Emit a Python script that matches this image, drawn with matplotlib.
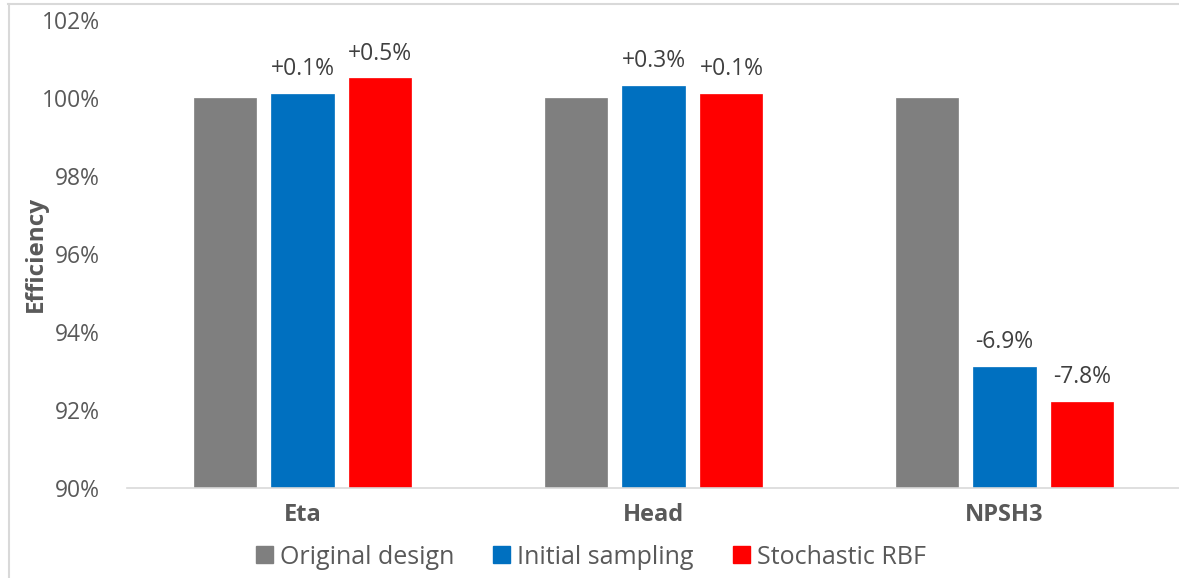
import matplotlib
matplotlib.use("Agg")
import matplotlib.pyplot as plt
from matplotlib.lines import Line2D
from matplotlib.patches import Patch
import numpy as np

plt.rcParams['font.family'] = ['Open Sans', 'DejaVu Sans']

categories = ["Eta", "Head", "NPSH3"]
series_names = ["Original design", "Initial sampling", "Stochastic RBF"]
original = [100.0, 100.0, 100.0]
initial = [100.1, 100.3, 93.1]
stochastic = [100.5, 100.1, 92.2]
initial_labels = ["+0.1%", "+0.3%", "-6.9%"]
stochastic_labels = ["+0.5%", "+0.1%", "-7.8%"]
yticks = [90, 92, 94, 96, 98, 100, 102]
ytick_labels = ["90%", "92%", "94%", "96%", "98%", "100%", "102%"]

colors = ["#7F7F7F", "#0070C0", "#FF0000"]
text_grey = "#595959"
label_grey = "#404040"

W, H = 1179, 578
fig = plt.figure(figsize=(W / 100, H / 100), dpi=100)
ax = fig.add_axes([127 / W, 1 - 487.5 / H, (1180 - 127) / W, (487.5 - 20) / H])

x = np.arange(len(categories))
bw = 0.177
step = 0.222
series = [original, initial, stochastic]
labels = [None, initial_labels, stochastic_labels]
for i, (vals, col) in enumerate(zip(series, colors)):
    pos = x + (i - 1) * step
    ax.bar(pos, np.array(vals) - 90, bottom=90, width=bw, color=col,
           edgecolor=col, linewidth=0.5, zorder=3)
    if labels[i] is not None:
        for p, v, t in zip(pos, vals, labels[i]):
            ax.annotate(t, (p, v), xytext=(0, 13.5), textcoords="offset points",
                        ha="center", va="baseline", fontsize=16.5,
                        color=label_grey)

ax.set_xlim(-0.5, 2.5)
ax.set_ylim(90, 102)
ax.set_yticks(yticks)
ax.set_yticklabels(ytick_labels, fontsize=16.5, color=text_grey)
ax.set_xticks(x)
ax.set_xticklabels(categories, fontsize=17, fontweight="bold", color=text_grey)
ax.tick_params(axis="both", length=0)
ax.tick_params(axis="y", pad=19.5)
ax.tick_params(axis="x", pad=11.5)
for s in ["top", "right", "left"]:
    ax.spines[s].set_visible(False)
ax.spines["bottom"].set_color("#D9D9D9")
ax.spines["bottom"].set_linewidth(1.2)
ax.spines["bottom"].set_zorder(4)

ax.set_ylabel("Efficiency", fontsize=17.5, fontweight="bold", color=text_grey)
ax.yaxis.set_label_coords((36 - 127) / (1180 - 127), 0.5)
ax.yaxis.label.set_va("center")

handles = [Patch(facecolor=c, edgecolor=c) for c in colors]
fig.legend(handles, series_names, loc="center", ncol=3, frameon=False,
           bbox_to_anchor=(591 / W, 1 - 557 / H), fontsize=18,
           labelcolor=text_grey, handlelength=0.68, handleheight=0.68,
           handletextpad=0.28, columnspacing=1.55)

# light frame around the chart area
frame = "#D9D9D9"
fig.add_artist(Line2D([8 / W, 1.0], [1 - 3.5 / H, 1 - 3.5 / H],
                      color=frame, lw=1.5, transform=fig.transFigure))
fig.add_artist(Line2D([8.5 / W, 8.5 / W], [0, 1 - 3.5 / H],
                      color=frame, lw=1.5, transform=fig.transFigure))

fig.savefig("out.png", dpi=100)
